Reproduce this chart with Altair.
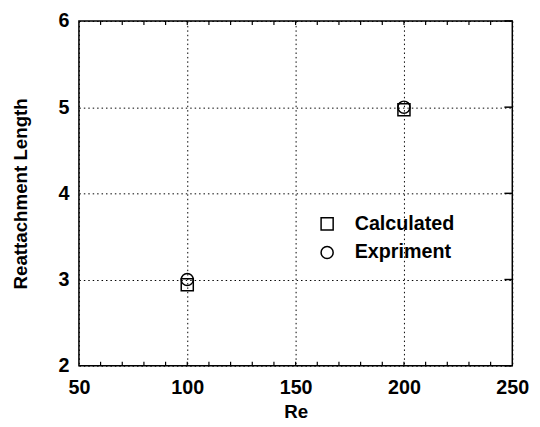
import altair as alt
import pandas as pd

# ---- data ----
re_values = [100, 200]
calculated = [2.94, 4.97]
experiment = [3.0, 5.0]
series_names = ["Calculated", "Expriment"]
x_ticks = [50, 100, 150, 200, 250]
y_ticks = [2, 3, 4, 5, 6]
x_minor = [60, 70, 80, 90, 100, 110, 120, 130, 140, 150, 160, 170, 180, 190,
           200, 210, 220, 230, 240]

W, H = 440, 350
FONT = "Liberation Sans"

points = pd.DataFrame({
    "Re": re_values + re_values,
    "Length": calculated + experiment,
    "Series": [series_names[0]] * len(re_values) + [series_names[1]] * len(re_values),
})
minor_df = pd.DataFrame({"Re": x_minor})
ytick_df = pd.DataFrame({"Length": y_ticks})

x_enc = alt.X(
    "Re:Q",
    scale=alt.Scale(domain=[50, 250], nice=False, zero=False),
    axis=alt.Axis(values=x_ticks, title="Re", labelPadding=12, titlePadding=6,
                  labelFlush=False),
)
y_enc = alt.Y(
    "Length:Q",
    scale=alt.Scale(domain=[2, 6], nice=False, zero=False),
    axis=alt.Axis(values=y_ticks, title="Reattachment Length", labelPadding=10,
                  titlePadding=28, labelFlush=False),
)

pts = alt.Chart(points).mark_point(
    filled=False, color="black", strokeWidth=1.5, size=150, opacity=1
).encode(
    x=x_enc,
    y=y_enc,
    shape=alt.Shape(
        "Series:N",
        scale=alt.Scale(domain=series_names, range=["square", "circle"]),
        legend=alt.Legend(
            orient="none", legendX=242, legendY=196, title=None,
            labelFont=FONT, labelFontSize=20, labelFontWeight="bold",
            labelColor="black", symbolSize=150, symbolStrokeColor="black",
            symbolFillColor="white", symbolStrokeWidth=1.5, symbolType="square",
            rowPadding=9, labelOffset=18, padding=0,
        ),
    ),
)

bottom_ticks = alt.Chart(minor_df).mark_rule(color="black", strokeWidth=1.2).encode(
    x=x_enc, y=alt.value(H), y2=alt.value(H - 4)
)
top_ticks = alt.Chart(minor_df).mark_rule(color="black", strokeWidth=1.2).encode(
    x=x_enc, y=alt.value(0), y2=alt.value(4)
)
right_ticks = alt.Chart(ytick_df).mark_rule(color="black", strokeWidth=1.5).encode(
    y=y_enc, x=alt.value(W), x2=alt.value(W - 8)
)

chart = alt.layer(pts, bottom_ticks, top_ticks, right_ticks).properties(
    width=W, height=H,
    autosize=alt.AutoSizeParams(type="none"),
    padding={"left": 72, "top": 10, "right": 20, "bottom": 56},
    background="white",
).configure_view(
    stroke="black", strokeWidth=1.5
).configure_axis(
    domain=False, ticks=False, grid=True, gridColor="black", gridDash=[1.5, 3],
    gridWidth=1, gridOpacity=1,
    labelFont=FONT, labelFontSize=20, labelFontWeight="bold", labelColor="black",
    titleFont=FONT, titleFontSize=19, titleFontWeight="bold", titleColor="black",
)

chart.save("out.html", embed_options={"renderer": "svg", "actions": False})
